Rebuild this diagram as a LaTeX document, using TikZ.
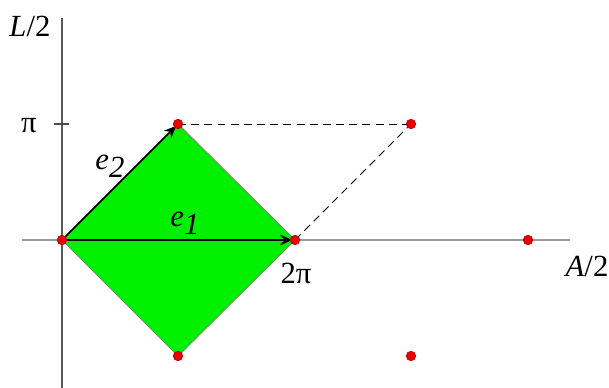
\documentclass[tikz,border=0pt]{standalone}
\usepackage{fontspec}
\setmainfont{Liberation Serif}
\usetikzlibrary{arrows.meta, backgrounds}
\definecolor{mygreen}{RGB}{0, 240, 0}
\definecolor{myred}{RGB}{230, 0, 0}

\begin{document}
\begin{tikzpicture}[x=0.02cm, y=-0.02cm, font=\fontsize{17.5}{21}\selectfont]
\useasboundingbox (0,0) rectangle (609,388);
\tikzset{
  dot/.style={circle, fill=myred, draw=red!70!black, line width=0.3pt, inner sep=0pt, minimum size=5.5pt},
  vec/.style={-{Stealth[length=7pt, width=6pt]}, line width=0.9pt, shorten >=1.5pt},
  dashline/.style={dash pattern=on 4.5pt off 3pt, line width=0.55pt},
  lbl/.style={inner sep=0pt}
}

% axes
\coordinate (ytop) at (62,18);
\coordinate (ybot) at (62,388);
\coordinate (xleft) at (22,240);
\coordinate (xright) at (570,240);
\coordinate (tickL) at (54,124);
\coordinate (tickR) at (69,124);

% lattice points
\node[dot] (O) at (62,240) {};
\node[dot] (E1) at (295,240) {};
\node[dot] (E2) at (178,124) {};
\node[dot] (E12) at (411,124) {};
\node[dot] (E11) at (528,240) {};
\node[dot] (D1) at (178,356) {};
\node[dot] (D2) at (411,356) {};

\begin{scope}[on background layer]
\fill[mygreen, draw=gray!80!green, line width=0.6pt] (O.center) -- (E2.center) -- (E1.center) -- (D1.center) -- cycle;

\draw[gray!80, line width=0.8pt] (xleft) -- (xright);
\draw[black!65, line width=0.8pt] (ytop) -- (ybot);
\draw[black!70, line width=0.6pt] (tickL) -- (tickR);

\draw[dashline] (E2.center) -- (E12.center);
\draw[dashline] (E1.center) -- (E12.center);

\draw[vec] (O.center) -- (E2.center);
\draw[vec] (O.center) -- (E1.center);
\end{scope}

\node[lbl] (Llbl) at (30,26) {\textit{L}/2};
\node[lbl] (Albl) at (587,266) {\textit{A}/2};
\node[lbl] (pilbl) at (29,126) {π};
\node[lbl] (twopilbl) at (296,273) {2π};
\node[lbl] (e2lbl) at (110,166) {\textit{e}\raisebox{-0.55ex}{\itshape 2}};
\node[lbl] (e1lbl) at (185,223) {\textit{e}\raisebox{-0.55ex}{\itshape 1}};
\end{tikzpicture}
\end{document}
